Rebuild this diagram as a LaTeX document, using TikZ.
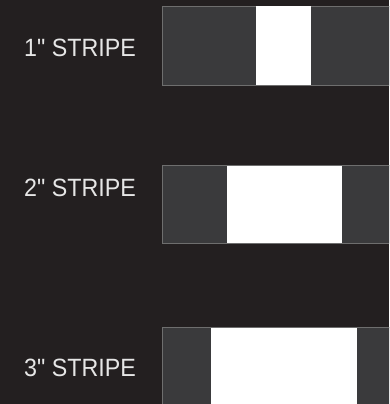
\documentclass[tikz,border=0pt]{standalone}
\usepackage{fontspec}
\setmainfont{Liberation Sans}[Ligatures=TeXOff]
\definecolor{bg}{HTML}{231F20}
\definecolor{panel}{HTML}{3A3A3C}
\definecolor{edge}{HTML}{6E6E6E}
\definecolor{txt}{HTML}{E6E6E6}
\tikzset{stripelabel/.style={anchor=east, text=txt, inner sep=0pt, xscale=0.93, font=\fontsize{25}{25}\selectfont}}

\begin{document}
\begin{tikzpicture}[x=1pt, y=-1pt]
    \useasboundingbox (0,0) rectangle (389,404);
    \fill[bg] (0,0) rectangle (389,404);
    \clip (0,0) rectangle (389,404);
    \foreach \n/\t/\b/\l/\r/\y in {1/6/85/256/311/48, 2/165/243/227/342/187.5, 3/327/406/211/357/368}
    {
        \filldraw[fill = panel, draw = edge, line width = 0.8pt](162, \t) rectangle (391, \b);
        \fill[white](\l, \t+0.5) rectangle (\r, \b-0.5);
        \node[stripelabel] (label\n) at (136, \y) {\n" STRIPE};
    }
\end{tikzpicture}
\end{document}
